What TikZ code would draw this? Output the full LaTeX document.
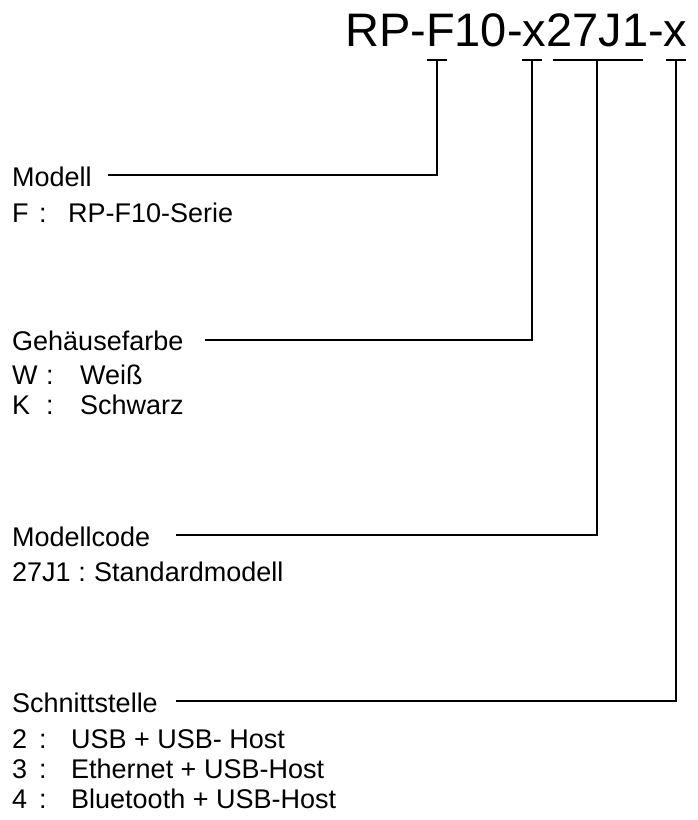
\documentclass[tikz,border=0pt]{standalone}
\usepackage{fontspec}
\setmainfont{Liberation Sans}
\begin{document}
\begin{tikzpicture}[x=1pt,y=-1pt,
  lbl/.style={font=\fontsize{27}{27}\selectfont, inner sep=0pt, anchor=base west},
  colon/.style={font=\fontsize{27}{27}\selectfont, inner sep=0pt, anchor=base},
  conn/.style={line width=1.8pt, line join=miter}]
\useasboundingbox (0,0) rectangle (698,820);
\node[inner sep=0pt, anchor=base west, font=\fontsize{47}{47}\selectfont] (title) at (345,46) {RP-F10-x27J1-x};

% tick points under the code
\coordinate (tF) at (437,60);
\coordinate (tX) at (532,60);
\coordinate (tC) at (597,60);
\coordinate (tI) at (676,60);
\coordinate (barL) at (553,60);
\coordinate (barR) at (643,60);
\draw[conn] ([xshift=-10pt]tF) -- ([xshift=10pt]tF);
\draw[conn] ([xshift=-10pt]tX) -- ([xshift=10pt]tX);
\draw[conn] (barL) -- (barR);
\draw[conn] ([xshift=-10pt]tI) -- ([xshift=10pt]tI);

% Modell
\node[lbl] (modell) at (12,186) {Modell};
\coordinate (mS) at (108,175);
\draw[conn] (mS) -| (tF);
\node[lbl] (f1) at (12,222) {F};
\node[colon] (f2) at (43,222) {:};
\node[lbl] (f3) at (68,222) {RP-F10-Serie};

% Gehaeusefarbe
\node[lbl] (geh) at (12,350) {Gehäusefarbe};
\coordinate (gS) at (205,340);
\draw[conn] (gS) -| (tX);
\node[lbl] (w1) at (12,384) {W};
\node[colon] (w2) at (50,384) {:};
\node[lbl] (w3) at (80,384) {Weiß};
\node[lbl] (k1) at (12,414) {K};
\node[colon] (k2) at (50,414) {:};
\node[lbl] (k3) at (80,414) {Schwarz};

% Modellcode
\node[lbl] (code) at (12,546) {Modellcode};
\coordinate (cS) at (176,535);
\draw[conn] (cS) -| (tC);
\node[lbl] (c1) at (12,581) {27J1};
\node[colon] (c2) at (82,581) {:};
\node[lbl] (c3) at (94,581) {Standardmodell};

% Schnittstelle
\node[lbl] (sch) at (12,712) {Schnittstelle};
\coordinate (sS) at (176,701);
\draw[conn] (sS) -| (tI);
\node[lbl] (s21) at (12,748) {2};
\node[colon] (s22) at (43,748) {:};
\node[lbl] (s23) at (71,748) {USB + USB- Host};
\node[lbl] (s31) at (12,778) {3};
\node[colon] (s32) at (43,778) {:};
\node[lbl] (s33) at (71,778) {Ethernet + USB-Host};
\node[lbl] (s41) at (12,808) {4};
\node[colon] (s42) at (43,808) {:};
\node[lbl] (s43) at (71,808) {Bluetooth + USB-Host};
\end{tikzpicture}
\end{document}
